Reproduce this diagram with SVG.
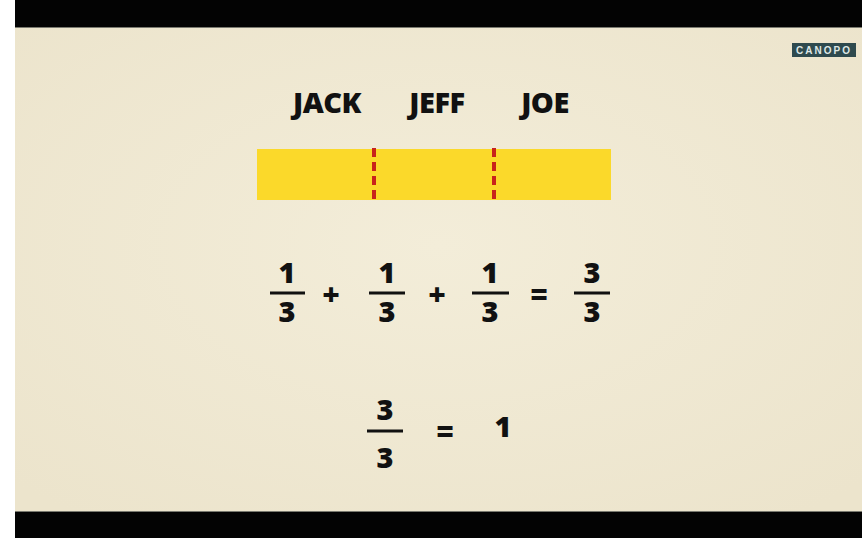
<svg xmlns="http://www.w3.org/2000/svg" width="862" height="539" viewBox="0 0 862 539">
  <defs>
    <radialGradient id="bg" cx="0.5" cy="0.45" r="0.7">
      <stop offset="0" stop-color="#f3edd9"/>
      <stop offset="1" stop-color="#ece4cc"/>
    </radialGradient>
    <style>
      .t { font-family: "Open Sans", "Liberation Sans", sans-serif; font-weight: 800; fill: #111; }
      .name { font-size: 29px; text-anchor: middle; letter-spacing: -0.5px; }
      .num { font-size: 29px; text-anchor: middle; }
      .op { font-size: 30px; text-anchor: middle; }
      .bar { stroke: #111; stroke-width: 3; }
      .cut { stroke: #c8231b; stroke-width: 4; stroke-dasharray: 9 5; }
    </style>
  </defs>
  <rect x="0" y="0" width="862" height="539" fill="#ffffff"/>
  <rect x="15" y="27" width="847" height="485" fill="url(#bg)"/>
  <rect x="15" y="0" width="847" height="27" fill="#030303"/>
  <line x1="15" y1="27.5" x2="862" y2="27.5" stroke="#7a7a70" stroke-width="1"/>
  <rect x="15" y="512" width="847" height="26" fill="#030303"/>
  <line x1="15" y1="511.5" x2="862" y2="511.5" stroke="#7a7a70" stroke-width="1"/>

  <g id="logo">
    <rect x="792" y="43" width="64" height="14" fill="#2f4a4e"/>
    <text x="824" y="54" font-family="Liberation Sans, sans-serif" font-weight="bold" font-size="10" fill="#dfe8e6" text-anchor="middle" letter-spacing="2">CANOPO</text>
  </g>

  <g id="names">
    <text class="t name" x="327" y="113">JACK</text>
    <text class="t name" x="437" y="113">JEFF</text>
    <text class="t name" x="545" y="113">JOE</text>
  </g>

  <g id="strip">
    <rect x="257" y="149" width="354" height="51" fill="#fbd92a"/>
    <line class="cut" x1="374" y1="148" x2="374" y2="202"/>
    <line class="cut" x1="494" y1="148" x2="494" y2="202"/>
  </g>

  <g id="equation1">
    <text class="t num" x="287" y="283">1</text>
    <line class="bar" x1="270" y1="293" x2="305" y2="293"/>
    <text class="t num" x="287" y="322">3</text>
    <text class="t op" x="331" y="305">+</text>
    <text class="t num" x="387" y="283">1</text>
    <line class="bar" x1="369" y1="293" x2="405" y2="293"/>
    <text class="t num" x="387" y="322">3</text>
    <text class="t op" x="437" y="305">+</text>
    <text class="t num" x="490" y="283">1</text>
    <line class="bar" x1="472" y1="293" x2="509" y2="293"/>
    <text class="t num" x="490" y="322">3</text>
    <text class="t op" x="539" y="305">=</text>
    <text class="t num" x="592" y="283">3</text>
    <line class="bar" x1="574" y1="293" x2="610" y2="293"/>
    <text class="t num" x="592" y="322">3</text>
  </g>

  <g id="equation2">
    <text class="t num" x="385" y="420">3</text>
    <line class="bar" x1="367" y1="431" x2="403" y2="431"/>
    <text class="t num" x="385" y="468">3</text>
    <text class="t op" x="445" y="442">=</text>
    <text class="t num" x="503" y="437">1</text>
  </g>
</svg>
